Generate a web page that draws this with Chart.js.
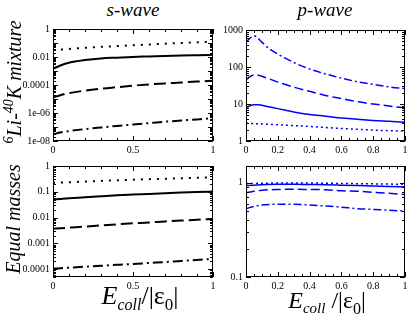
<!DOCTYPE html>
<html>
<head>
<meta charset="utf-8">
<script src="https://cdn.jsdelivr.net/npm/chart.js@4.4.0/dist/chart.umd.min.js"></script>
<style>
  html, body { margin: 0; padding: 0; width: 415px; height: 317px; overflow: hidden; background: #fff; }
  #wrap { position: relative; width: 415px; height: 317px; overflow: hidden; }
  canvas { position: absolute; }
  .lbl { position: absolute; font-family: "Liberation Serif", serif; color: #000; white-space: nowrap; line-height: 1; }
  .rot { transform: translate(-50%, -50%) rotate(-90deg); }
  .ctr { transform: translateX(-50%); }
  sub { vertical-align: baseline; position: relative; top: 0.35em; }
  sup { vertical-align: baseline; position: relative; top: -0.55em; }
</style>
</head>
<body>
<div id="wrap">
<canvas id="cTL" width="225" height="140" style="left:0px;top:20px"></canvas>
<canvas id="cTR" width="210" height="140" style="left:205px;top:20px"></canvas>
<canvas id="cBL" width="225" height="140" style="left:0px;top:156px"></canvas>
<canvas id="cBR" width="210" height="140" style="left:205px;top:156px"></canvas>

<div class="lbl ctr" style="left:133px;top:0px;font-size:19px;font-style:italic">s-wave</div>
<div class="lbl ctr" style="left:325px;top:0px;font-size:19px;font-style:italic">p-wave</div>
<div class="lbl rot" style="left:14px;top:82px;font-size:20px;font-style:italic"><sup style="font-size:14px">6</sup>Li-<sup style="font-size:14px">40</sup>K mixture</div>
<div class="lbl rot" style="left:13px;top:219px;font-size:20px;font-style:italic">Equal masses</div>
<div class="lbl ctr" style="left:140px;top:283px;font-size:26px"><i>E</i><sub style="font-size:16px"><i>coll</i></sub>/<span>|ε<sub style="font-size:17px">0</sub>|</span></div>
<div class="lbl ctr" style="left:327px;top:288px;font-size:24px"><i>E</i><sub style="font-size:15px"><i>coll</i></sub>&nbsp;/<span>|ε<sub style="font-size:16px">0</sub>|</span></div>
</div>

<script>
// energia de colisao (em unidades de |eps0|)
var xS = [0, 0.05, 0.1, 0.2, 0.3, 0.4, 0.5, 0.6, 0.7, 0.8, 0.9, 1];
var xP = [0, 0.025, 0.05, 0.075, 0.1, 0.15, 0.2, 0.3, 0.4, 0.5, 0.6, 0.7, 0.8, 0.9, 1];

// 6Li-40K, onda s
var liS_dotted  = [0.031, 0.034, 0.038, 0.045, 0.053, 0.06, 0.069, 0.078, 0.09, 0.1, 0.113, 0.126];
var liS_solid   = [0.00145, 0.0026, 0.0039, 0.006, 0.0079, 0.009, 0.0102, 0.011, 0.012, 0.0128, 0.0135, 0.0142];
var liS_dashed  = [1.26e-5, 1.95e-5, 2.6e-5, 4e-5, 5.5e-5, 7e-5, 8.9e-5, 1.1e-4, 1.3e-4, 1.5e-4, 1.75e-4, 2e-4];
var liS_dashdot = [2.96e-8, 4.2e-8, 5.1e-8, 7.1e-8, 9.3e-8, 1.2e-7, 1.5e-7, 1.9e-7, 2.4e-7, 2.9e-7, 3.5e-7, 4.3e-7];

// 6Li-40K, onda p
var liP_dashdot = [457, 600, 700, 600, 470, 303, 223, 133, 88, 65, 50, 40, 34, 29, 26];
var liP_dashed  = [45, 55, 61, 60, 56, 47, 39, 28.5, 22, 17, 14, 11.5, 10, 8.8, 7.8];
var liP_solid   = [7.8, 9, 9.6, 9.5, 9.2, 8.3, 7.5, 6.1, 5.2, 4.7, 4.2, 3.9, 3.6, 3.4, 3.2];
var liP_dotted  = [3.0, 3.0, 2.95, 2.92, 2.9, 2.82, 2.75, 2.6, 2.47, 2.32, 2.18, 2.07, 1.97, 1.9, 1.85];

// massas iguais, onda s
var eqS_dotted  = [0.22, 0.23, 0.235, 0.25, 0.265, 0.28, 0.295, 0.31, 0.32, 0.335, 0.35, 0.36];
var eqS_solid   = [0.05, 0.053, 0.056, 0.061, 0.067, 0.073, 0.078, 0.083, 0.088, 0.093, 0.098, 0.103];
var eqS_dashed  = [0.0037, 0.0039, 0.0041, 0.0045, 0.005, 0.0055, 0.006, 0.0065, 0.0071, 0.0077, 0.0083, 0.0089];
var eqS_dashdot = [1.05e-4, 1.1e-4, 1.15e-4, 1.25e-4, 1.35e-4, 1.5e-4, 1.6e-4, 1.75e-4, 1.9e-4, 2.1e-4, 2.3e-4, 2.5e-4];

// massas iguais, onda p
var eqP_dotted  = [0.975, 0.98, 0.985, 0.99, 0.99, 0.99, 0.985, 0.98, 0.975, 0.97, 0.965, 0.96];
var eqP_solid   = [0.93, 0.94, 0.95, 0.96, 0.96, 0.955, 0.95, 0.94, 0.93, 0.92, 0.91, 0.9];
var eqP_dashed  = [0.78, 0.81, 0.83, 0.845, 0.85, 0.845, 0.84, 0.82, 0.81, 0.79, 0.77, 0.75];
var eqP_dashdot = [0.53, 0.56, 0.58, 0.59, 0.59, 0.58, 0.565, 0.55, 0.53, 0.52, 0.51, 0.5];

// rotulos dos eixos
var xTicksS = [0, 0.5, 1];
var xLabelsS = ['0', '0.5', '1'];
var xTicksP = [0, 0.2, 0.4, 0.6, 0.8, 1];
var xLabelsP = ['0', '0.2', '0.4', '0.6', '0.8', '1'];
var yTicksTL = [1e-8, 1e-6, 1e-4, 1e-2, 1];
var yLabelsTL = ['1e-08', '1e-06', '0.0001', '0.01', '1'];
var yTicksTR = [1, 10, 100, 1000];
var yLabelsTR = ['1', '10', '100', '1000'];
var yTicksBL = [1e-4, 1e-3, 1e-2, 0.1, 1];
var yLabelsBL = ['0.0001', '0.001', '0.01', '0.1', '1'];
var yTicksBR = [0.1, 1];
var yLabelsBR = ['0.1', '1'];

Chart.defaults.font.family = '"Liberation Serif", serif';
Chart.defaults.font.size = 10;
Chart.defaults.color = '#000';

function pts(xs, ys) {
    return xs.map(function (x, i) { return { x: x, y: ys[i] }; });
}

function serie(xs, ys, cor, largura, tracejado) {
    return {
        data: pts(xs, ys),
        borderColor: cor,
        borderWidth: largura,
        borderDash: tracejado,
        pointRadius: 0,
        fill: false,
        cubicInterpolationMode: 'monotone'
    };
}

// moldura e marcas para dentro, nos quatro lados
var molduraPlugin = {
    id: 'moldura',
    afterDatasetsDraw: function (chart, args, o) {
        var ctx = chart.ctx, a = chart.chartArea;
        var sx = chart.scales.x, sy = chart.scales.y;
        ctx.save();
        ctx.strokeStyle = '#000';
        ctx.lineWidth = 1;
        ctx.strokeRect(Math.round(a.left) + 0.5, Math.round(a.top) + 0.5,
            Math.round(a.right - a.left) - 1, Math.round(a.bottom - a.top) - 1);
        ctx.beginPath();
        // eixo x
        for (var v = 0; v <= 1.0001; v += o.xStep) {
            var px = Math.round(sx.getPixelForValue(v)) + 0.5;
            var maior = o.xMajor.some(function (m) { return Math.abs(m - v) < 1e-6; });
            var len = maior ? 5 : 3;
            ctx.moveTo(px, a.bottom); ctx.lineTo(px, a.bottom - len);
            ctx.moveTo(px, a.top); ctx.lineTo(px, a.top + len);
        }
        // eixo y (log)
        var e0 = Math.floor(Math.log10(sy.min)), e1 = Math.ceil(Math.log10(sy.max));
        for (var e = e0; e <= e1; e++) {
            for (var k = 1; k <= 9; k++) {
                var val = k * Math.pow(10, e);
                if (val < sy.min * 0.999 || val > sy.max * 1.001) continue;
                var py = Math.round(sy.getPixelForValue(val)) + 0.5;
                var l = (k === 1) ? 5 : 3;
                ctx.moveTo(a.left, py); ctx.lineTo(a.left + l, py);
                ctx.moveTo(a.right, py); ctx.lineTo(a.right - l, py);
            }
        }
        ctx.stroke();
        ctx.restore();
    }
};

function painel(id, datasets, cfg) {
    return new Chart(document.getElementById(id), {
        type: 'line',
        data: { datasets: datasets },
        plugins: [molduraPlugin],
        options: {
            responsive: false,
            devicePixelRatio: 1,
            animation: false,
            layout: { padding: { top: cfg.padTop, right: cfg.padRight, left: 0, bottom: 0 } },
            plugins: {
                legend: { display: false },
                tooltip: { enabled: false },
                moldura: { xStep: cfg.xStep, xMajor: cfg.xTicks }
            },
            scales: {
                x: {
                    type: 'linear', min: 0, max: 1,
                    grid: { display: false, drawTicks: false },
                    border: { display: false },
                    afterBuildTicks: function (s) { s.ticks = cfg.xTicks.map(function (v) { return { value: v }; }); },
                    afterFit: function (s) { s.height = cfg.xH; },
                    ticks: {
                        autoSkip: false, maxRotation: 0, minRotation: 0, padding: 3,
                        callback: function (v) { return cfg.xLabels[cfg.xTicks.indexOf(v)]; }
                    }
                },
                y: {
                    type: 'logarithmic', min: cfg.yMin, max: cfg.yMax,
                    grid: { display: false, drawTicks: false },
                    border: { display: false },
                    afterBuildTicks: function (s) { s.ticks = cfg.yTicks.map(function (v) { return { value: v }; }); },
                    afterFit: function (s) { s.width = cfg.yW; },
                    ticks: {
                        autoSkip: false, padding: 3,
                        callback: function (v) { return cfg.yLabels[cfg.yTicks.indexOf(v)]; }
                    }
                }
            }
        }
    });
}

var PRETO = '#000000', AZUL = '#0000ff';

painel('cTL', [
    serie(xS, liS_dotted, PRETO, 2, [2, 6]),
    serie(xS, liS_solid, PRETO, 2, []),
    serie(xS, liS_dashed, PRETO, 2, [12, 5]),
    serie(xS, liS_dashdot, PRETO, 2, [10, 4, 2, 4])
], { padTop: 9, padRight: 12, yW: 53, xH: 19, yMin: 1e-8, yMax: 1,
     xTicks: xTicksS, xLabels: xLabelsS, xStep: 0.1, yTicks: yTicksTL, yLabels: yLabelsTL });

painel('cTR', [
    serie(xP, liP_dashdot, AZUL, 1.5, [8, 3, 2, 3]),
    serie(xP, liP_dashed, AZUL, 1.5, [9, 4]),
    serie(xP, liP_solid, AZUL, 1.5, []),
    serie(xP, liP_dotted, AZUL, 1.5, [2, 3])
], { padTop: 10, padRight: 10, yW: 41, xH: 19, yMin: 1, yMax: 1000,
     xTicks: xTicksP, xLabels: xLabelsP, xStep: 0.05, yTicks: yTicksTR, yLabels: yLabelsTR });

painel('cBL', [
    serie(xS, eqS_dotted, PRETO, 2, [2, 6]),
    serie(xS, eqS_solid, PRETO, 2, []),
    serie(xS, eqS_dashed, PRETO, 2, [12, 5]),
    serie(xS, eqS_dashdot, PRETO, 2, [10, 4, 2, 4])
], { padTop: 10, padRight: 12, yW: 53, xH: 19, yMin: 5e-5, yMax: 1,
     xTicks: xTicksS, xLabels: xLabelsS, xStep: 0.1, yTicks: yTicksBL, yLabels: yLabelsBL });

painel('cBR', [
    serie(xS, eqP_dotted, AZUL, 1.5, [2, 3]),
    serie(xS, eqP_solid, AZUL, 1.5, []),
    serie(xS, eqP_dashed, AZUL, 1.5, [9, 4]),
    serie(xS, eqP_dashdot, AZUL, 1.5, [8, 3, 2, 3])
], { padTop: 10, padRight: 10, yW: 41, xH: 19, yMin: 0.1, yMax: 1.5,
     xTicks: xTicksP, xLabels: xLabelsP, xStep: 0.05, yTicks: yTicksBR, yLabels: yLabelsBR });
</script>
</body>
</html>
